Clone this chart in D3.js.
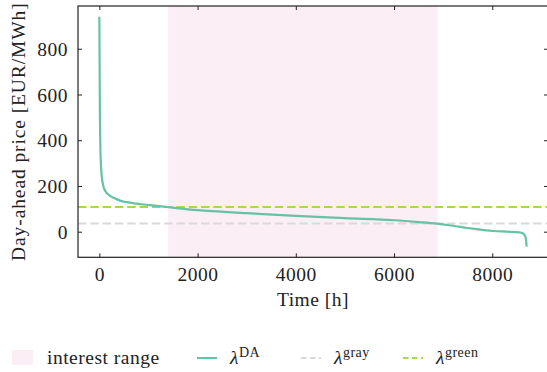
<!DOCTYPE html>
<html>
<head>
<meta charset="utf-8">
<script src="https://cdn.jsdelivr.net/npm/d3@7"></script>
<style>
	html, body { margin: 0; padding: 0; background: #fff; }
	svg text { font-family: "Liberation Serif", serif; fill: #222; letter-spacing: 0.5px; }
</style>
</head>
<body>
<svg id="chart" width="547" height="372"></svg>
<script>
/*global d3 */
'use strict';

// price duration curve (sorted day-ahead prices)
var hours = [0, 4, 8, 12, 18, 25, 35, 50, 80, 120, 200, 300, 420, 560, 750, 1030, 1450, 2000, 3000, 4000, 5000, 6000, 6500, 6870, 7200, 7500, 7800, 8020, 8300, 8550, 8630, 8670, 8690, 8700];
var prices = [940, 770, 620, 500, 395, 330, 280, 240, 200, 178, 160, 147, 136, 129, 123, 116, 106, 94, 81, 69, 59, 50, 42, 35, 26, 16, 8, 3, 0, -3, -8, -20, -40, -65];
var interestRange = [1400, 6890];
var grayPrice = 36;
var greenPrice = 107.5;
var xTicks = [0, 2000, 4000, 6000, 8000];
var yTicks = [0, 200, 400, 600, 800];
var legendItems = ['range', 'DA', 'gray', 'green'];

(function () {
	var svg = d3.select('#chart'),
		margin = { left: 78, top: 6, right: -1, bottom: 114.7 },
		width = 547 - margin.left - margin.right,
		height = 372 - margin.top - margin.bottom,
		colors = { range: '#fbeff5', DA: '#66c2a5', gray: '#d9d9d9', green: '#a6d854' },
		x, y, g, line, legend, drawTicks;

	x = d3.scaleLinear().domain([-435, 9135]).range([0, width]);
	y = d3.scaleLinear().domain([-112, 987]).range([height, 0]);

	g = svg.append('g').attr('transform', 'translate(' + margin.left + ',' + margin.top + ')');

	// interest range
	g.append('rect')
		.attr('x', x(interestRange[0]))
		.attr('y', 0)
		.attr('width', x(interestRange[1]) - x(interestRange[0]))
		.attr('height', height)
		.attr('fill', colors.range);

	// reference prices
	g.selectAll('line.ref')
		.data([{ v: grayPrice, c: colors.gray }, { v: greenPrice, c: colors.green }])
		.enter().append('line')
		.attr('class', 'ref')
		.attr('x1', 0).attr('x2', width)
		.attr('y1', function (d) { return y(d.v); })
		.attr('y2', function (d) { return y(d.v); })
		.attr('stroke', function (d) { return d.c; })
		.attr('stroke-width', 2)
		.attr('stroke-dasharray', '8.5,3.8');

	// curve
	line = d3.line()
		.x(function (d) { return x(d); })
		.y(function (d, i) { return y(prices[i]); })
		.curve(d3.curveMonotoneX);

	g.append('path')
		.attr('d', line(hours))
		.attr('fill', 'none')
		.attr('stroke', colors.DA)
		.attr('stroke-width', 2.2);

	// axes, ticks pointing inward on all sides
	drawTicks = function (axis, cls) {
		g.append('g')
			.attr('class', cls)
			.attr('transform', cls === 'xb' ? 'translate(0,' + height + ')' : (cls === 'yr' ? 'translate(' + width + ',0)' : null))
			.call(axis)
			.call(function (s) {
				s.select('.domain').remove();
				s.selectAll('.tick line').attr('stroke', '#222').attr('stroke-width', 1);
			});
	};

	drawTicks(d3.axisBottom(x).tickValues(xTicks).tickSize(-4).tickPadding(9.5).tickFormat(d3.format('d')), 'xb');
	drawTicks(d3.axisTop(x).tickValues(xTicks).tickSize(-4).tickFormat(''), 'xt');
	drawTicks(d3.axisLeft(y).tickValues(yTicks).tickSize(-4).tickPadding(10).tickFormat(d3.format('d')), 'yl');
	drawTicks(d3.axisRight(y).tickValues(yTicks).tickSize(-4).tickFormat(''), 'yr');

	g.selectAll('.xb .tick text, .yl .tick text')
		.style('font-size', '19.5px')
		.attr('fill', '#222');
	g.selectAll('.yl .tick text').attr('dy', '0.34em');

	// frame
	g.append('rect')
		.attr('width', width).attr('height', height)
		.attr('fill', 'none').attr('stroke', '#222').attr('stroke-width', 1.2);

	// axis labels
	g.append('text')
		.attr('x', width / 2).attr('y', height + 48.5)
		.attr('text-anchor', 'middle')
		.style('font-size', '19.5px')
		.text('Time [h]');

	g.append('text')
		.attr('transform', 'translate(' + (-53.5) + ',' + (height / 2) + ') rotate(-90)')
		.attr('text-anchor', 'middle')
		.style('font-size', '19.5px')
		.style('letter-spacing', '0.9px')
		.text('Day-ahead price [EUR/MWh]');

	// legend
	legend = svg.append('g').attr('transform', 'translate(0,364)');
	legendItems.forEach(function (k) {
		var item, t,
			pos = { range: 12, DA: 197, gray: 301, green: 403 }[k];
		item = legend.append('g').attr('transform', 'translate(' + pos + ',0)');
		if (k === 'range') {
			item.append('rect').attr('x', 0).attr('y', -14).attr('width', 21).attr('height', 15).attr('fill', colors.range);
			item.append('text').attr('x', 35).style('font-size', '19.5px').text('interest range');
			return;
		}
		item.append('line')
			.attr('x1', 0).attr('x2', 20).attr('y1', -6).attr('y2', -6)
			.attr('stroke', colors[k]).attr('stroke-width', 2)
			.attr('stroke-dasharray', k === 'DA' ? null : '5.5,3.5');
		t = item.append('text').attr('x', 33).style('font-size', '19.5px');
		t.append('tspan').style('font-style', 'italic').text('λ');
		t.append('tspan').attr('dy', -7).style('font-size', '14px').text(k);
	});
}());
</script>
</body>
</html>
